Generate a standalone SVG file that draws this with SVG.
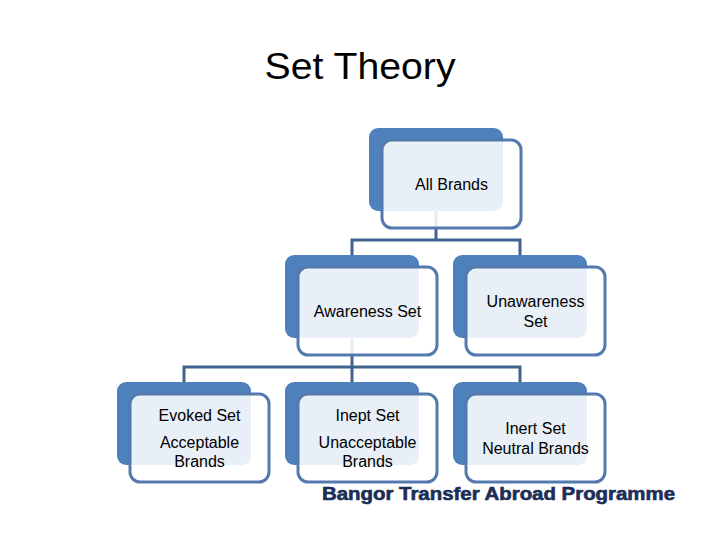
<svg xmlns="http://www.w3.org/2000/svg" width="720" height="540" viewBox="0 0 720 540">
<style>
.back{fill:#4f81bd}
.front{fill:#ffffff;fill-opacity:0.87;stroke:#5479ad;stroke-width:3}
.lbl{font-family:"Liberation Sans",Arial,sans-serif;font-size:16px;fill:#000;text-anchor:middle}
.conn{fill:none;stroke:#41638f;stroke-width:3}
</style>
<rect width="720" height="540" fill="#ffffff"/>
<text x="360" y="79" font-family="'Liberation Sans',Arial,sans-serif" font-size="37" text-anchor="middle" textLength="191" lengthAdjust="spacingAndGlyphs" fill="#000">Set Theory</text>
<g id="connectors">
<path class="conn" d="M436,200 V240 M352,240 H520 M352,238.5 V257 M520,238.5 V257"/>
<path class="conn" d="M352,330 V367 M184,367 H520 M184,365.5 V384 M352,365.5 V384 M520,365.5 V384"/>
</g>
<g id="all-brands">
<rect class="back" x="369" y="128" width="134" height="83" rx="9"/>
<rect class="front" x="382" y="140" width="139" height="88" rx="10"/>
<text class="lbl" x="451.5" y="190">All Brands</text>
</g>
<g id="awareness-set">
<rect class="back" x="285" y="255" width="134" height="83" rx="9"/>
<rect class="front" x="298" y="267" width="139" height="88" rx="10"/>
<text class="lbl" x="367.5" y="317">Awareness Set</text>
</g>
<g id="unawareness-set">
<rect class="back" x="453" y="255" width="134" height="83" rx="9"/>
<rect class="front" x="466" y="267" width="139" height="88" rx="10"/>
<text class="lbl" x="535.5" y="307">Unawareness</text>
<text class="lbl" x="535.5" y="327">Set</text>
</g>
<g id="evoked-set">
<rect class="back" x="117" y="382" width="134" height="83" rx="9"/>
<rect class="front" x="130" y="394" width="139" height="88" rx="10"/>
<text class="lbl" x="199.5" y="421">Evoked Set</text>
<text class="lbl" x="199.5" y="448">Acceptable</text>
<text class="lbl" x="199.5" y="467">Brands</text>
</g>
<g id="inept-set">
<rect class="back" x="285" y="382" width="134" height="83" rx="9"/>
<rect class="front" x="298" y="394" width="139" height="88" rx="10"/>
<text class="lbl" x="367.5" y="421">Inept Set</text>
<text class="lbl" x="367.5" y="448">Unacceptable</text>
<text class="lbl" x="367.5" y="467">Brands</text>
</g>
<g id="inert-set">
<rect class="back" x="453" y="382" width="134" height="83" rx="9"/>
<rect class="front" x="466" y="394" width="139" height="88" rx="10"/>
<text class="lbl" x="535.5" y="434">Inert Set</text>
<text class="lbl" x="535.5" y="454">Neutral Brands</text>
</g>
<text x="322" y="500" font-family="'Liberation Sans',Arial,sans-serif" font-size="18" font-weight="bold" fill="#1b2e58" stroke="#1b2e58" stroke-width="0.6" textLength="353" lengthAdjust="spacingAndGlyphs">Bangor Transfer Abroad Programme</text>
</svg>
